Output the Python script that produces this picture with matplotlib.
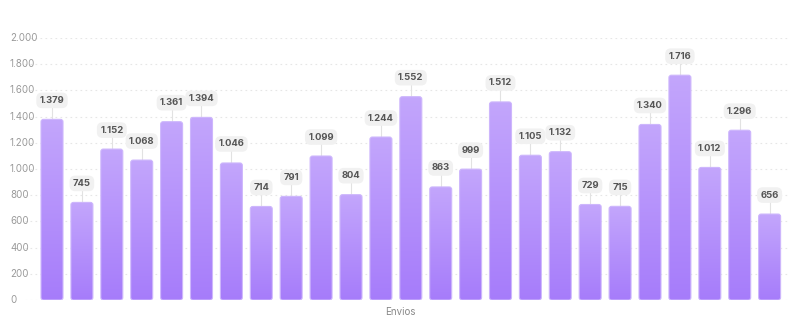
import numpy as np
import matplotlib
matplotlib.use("Agg")
import matplotlib.pyplot as plt
from matplotlib.patches import FancyBboxPatch
from matplotlib.colors import LinearSegmentedColormap

# Shipment counts per period
values = [1379, 745, 1152, 1068, 1361, 1394, 1046, 714, 791, 1099, 804, 1244,
          1552, 863, 999, 1512, 1105, 1132, 729, 715, 1340, 1716, 1012, 1296, 656]
y_ticks = [0, 200, 400, 600, 800, 1000, 1200, 1400, 1600, 1800, 2000]
x_label = "Envios"


def fmt(v):
    return f"{v:,}".replace(",", ".")


plt.rcParams['font.family'] = ['Inter', 'DejaVu Sans']

fig = plt.figure(figsize=(8, 3.25), dpi=100)
ax = fig.add_axes([25 / 800, 1 - 300 / 325, 765 / 800, 262 / 325])

pitch = 29.9
xmin = -(52 - 25) / pitch
xmax = xmin + 765 / pitch
ax.set_xlim(xmin, xmax)
ax.set_ylim(0, 2000)

# dotted horizontal grid
for t in y_ticks:
    ax.axhline(t, color="#e6e6e6", lw=0.8, ls=(0, (1.5, 3)), zorder=0)
    fig.text(10 / 800, ax.transData.transform((0, t))[1] / 325, fmt(t),
             ha="left", va="center", fontsize=7, color="#9a9a9a")

cmap = LinearSegmentedColormap.from_list("bar", ["#a67cfa", "#c3a6fc"])
grad = np.linspace(0, 1, 256).reshape(-1, 1)

width = 22 / pitch
px_x = 1 / pitch
px_y = 2000 / 262
aspect = px_y / px_x

for i, v in enumerate(values):
    x0 = i - width / 2
    patch = FancyBboxPatch((x0, 0), width, v,
                           boxstyle=f"round,pad=0,rounding_size={2.5 * px_x}",
                           mutation_aspect=aspect,
                           facecolor="none", edgecolor="#cdb6fc", lw=0.8, zorder=3)
    ax.add_patch(patch)
    im = ax.imshow(grad, extent=(x0, x0 + width, 0, v), origin="lower",
                   cmap=cmap, aspect="auto", zorder=2, interpolation="bicubic")
    im.set_clip_path(patch)
    # connector and value pill
    ax.plot([i, i], [v, v + 14 * px_y], color="#e2e2e2", lw=0.8, zorder=1)
    ax.text(i, v + 19 * px_y, fmt(v), ha="center", va="center", fontsize=6.8,
            fontweight="bold", color="#555555", zorder=4,
            bbox=dict(boxstyle="round,pad=0.35,rounding_size=0.6",
                      facecolor="#f1f1f1", edgecolor="none"))

ax.set_xlim(xmin, xmax)
ax.set_ylim(0, 2000)
for s in ax.spines.values():
    s.set_visible(False)
ax.set_xticks([])
ax.set_yticks([])

fig.text(400 / 800, 1 - 312 / 325, x_label, ha="center", va="center",
         fontsize=7, color="#888888")

fig.savefig("out.png", dpi=100)
